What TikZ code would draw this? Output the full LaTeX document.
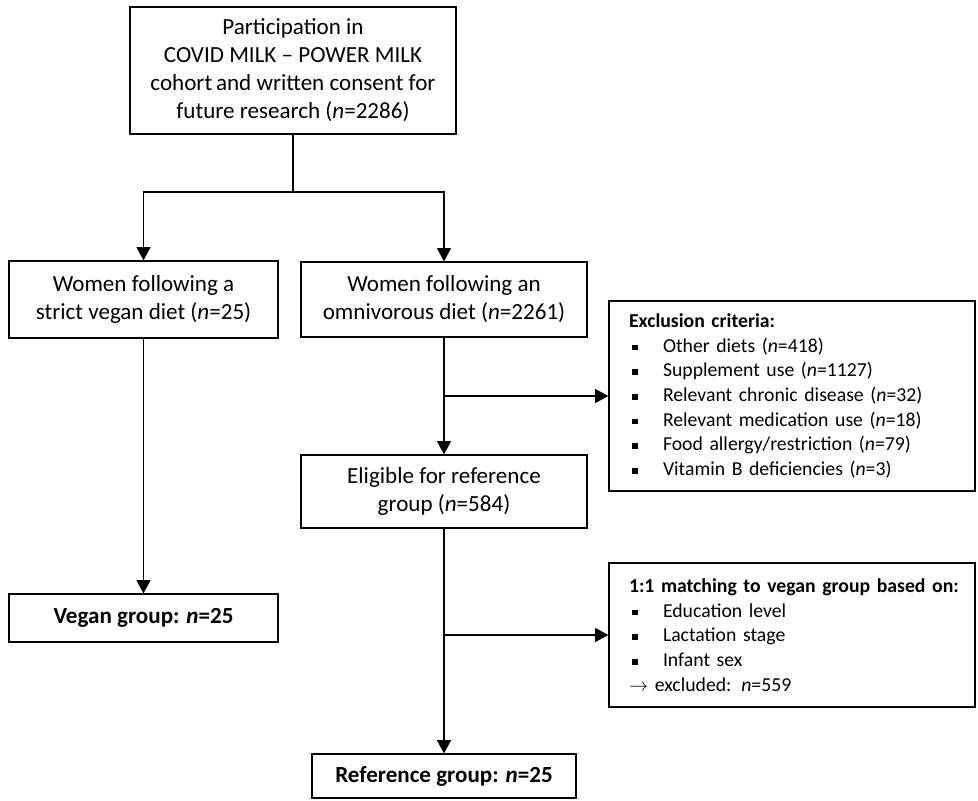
\documentclass[tikz,border=0pt]{standalone}
\usepackage{fontspec}
\setmainfont{Carlito}
\usetikzlibrary{arrows.meta}

\newcommand{\sqbul}{\rule[0.2ex]{4.2pt}{4.2pt}}
\newcommand{\critem}[1]{\makebox[25.5pt][l]{\hspace{2.25pt}\sqbul}#1}

\begin{document}
\begin{tikzpicture}[x=0.75pt, y=-0.75pt,
  box/.style={draw, line width=0.9pt, align=center, inner sep=0pt,
    font=\fontsize{17.3}{21}\selectfont},
  listbox/.style={draw, line width=0.9pt, align=left, inner ysep=0pt, inner xsep=15pt,
    text width=244.5pt, minimum width=274.5pt, font=\fontsize{14.8}{18.5}\selectfont},
  conn/.style={line width=1.1pt},
  arr/.style={conn, -{Triangle[width=10.5pt, length=10pt]}}]

  \useasboundingbox (0,0) rectangle (978,800);

  \node[box, minimum width=244.5pt, minimum height=95.25pt] (cohort) at (293,70.5)
    {Participation in\\COVID MILK -- POWER MILK\\cohort\,and written consent for\\future research (\textit{n}=2286)};
  \node[box, minimum width=201.75pt, minimum height=57.75pt] (vegan) at (143.5,299.5)
    {Women following a\\strict vegan diet (\textit{n}=25)};
  \node[box, minimum width=214.5pt, minimum height=56.25pt] (omni) at (444,299.5)
    {Women following an\\omnivorous diet (\textit{n}=2261)};
  \node[box, minimum width=214.5pt, minimum height=54.75pt] (elig) at (444,491.5)
    {Eligible for reference\\group (\textit{n}=584)};
  \node[box, minimum width=201.75pt, minimum height=36pt] (vegangrp) at (143.5,618)
    {\textbf{Vegan group: \textit{n}=25}};
  \node[box, minimum width=198pt, minimum height=33pt] (refgrp) at (444,776)
    {\textbf{Reference group: \textit{n}=25}};

  \node[listbox, minimum height=142.5pt] (excl) at (792,396)
    {\textbf{Exclusion criteria:}\\
     \critem{Other diets (\textit{n}=418)}\\
     \critem{Supplement use (\textit{n}=1127)}\\
     \critem{Relevant chronic disease (\textit{n}=32)}\\
     \critem{Relevant medication use (\textit{n}=18)}\\
     \critem{Food allergy/restriction (\textit{n}=79)}\\
     \critem{Vitamin B deficiencies (\textit{n}=3)}};
  \node[listbox, minimum height=108pt] (match) at (792,635)
    {\mbox{\textbf{1:1 matching to vegan group based on:}}\\
     \critem{Education level}\\
     \critem{Lactation stage}\\
     \critem{Infant sex}\\
     $\rightarrow$ excluded: \textit{n}=559};

  \coordinate (split) at (293,192);
  \draw[conn] (cohort) -- (split);
  \draw[arr] (split) -| (vegan);
  \draw[arr] (split) -| (omni);
  \draw[arr] (vegan) -- (vegangrp);
  \draw[arr] (omni) -- (elig);
  \draw[arr] (omni |- excl.west) -- (excl);
  \draw[arr] (elig) -- (refgrp);
  \draw[arr] (elig |- match.west) -- (match);

\end{tikzpicture}
\end{document}
